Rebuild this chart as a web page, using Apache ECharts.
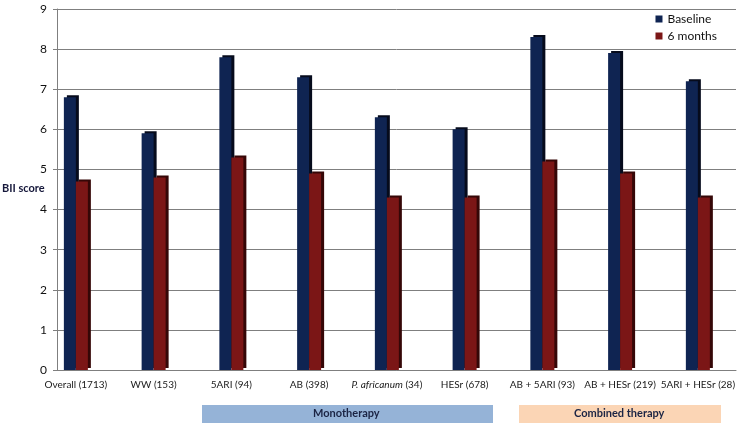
<!DOCTYPE html>
<html>
<head>
<meta charset="utf-8">
<script src="https://cdn.jsdelivr.net/npm/echarts@6/dist/echarts.min.js"></script>
<style>
  html, body { margin: 0; padding: 0; background: #fff; }
  #main { width: 738px; height: 426px; }
</style>
</head>
<body>
<div id="main"></div>
<script>
// categories (n = patients)
const categories = ['Overall (1713)', 'WW (153)', '5ARI (94)', 'AB (398)', 'P. africanum (34)',
  'HESr (678)', 'AB + 5ARI (93)', 'AB + HESr (219)', '5ARI + HESr (28)']
// BII score
const baseline = [6.8, 5.9, 7.8, 7.3, 6.3, 6.0, 8.3, 7.9, 7.2]
const sixMonths = [4.7, 4.8, 5.3, 4.9, 4.3, 4.3, 5.2, 4.9, 4.3]
const yTicks = [0, 9, 1] // min, max, interval

const FONT = 'Lato'
const chart = echarts.init(document.getElementById('main'))

chart.setOption({
  animation: false,
  textStyle: { fontFamily: FONT },
  legend: {
    orient: 'vertical',
    right: 16,
    top: 8,
    itemWidth: 7,
    itemHeight: 7,
    itemGap: 5,
    icon: 'rect',
    textStyle: { fontSize: 12, color: '#111', fontFamily: FONT },
    data: ['Baseline', '6 months']
  },
  grid: [
    // back wall: y axis + gridlines
    { left: 57, right: 2, top: 9, bottom: 56 },
    // bars + category labels
    { left: 37, right: 0, top: 9, bottom: 56 }
  ],
  xAxis: [
    {
      gridIndex: 0,
      type: 'category',
      data: categories,
      axisLine: { lineStyle: { color: '#7f7f7f' } },
      axisTick: { show: false },
      axisLabel: { show: false }
    },
    {
      gridIndex: 1,
      type: 'category',
      data: categories,
      axisLine: { show: false },
      axisTick: { show: false },
      axisLabel: {
        interval: 0,
        margin: 10,
        fontSize: 10,
        color: '#1a1a1a',
        fontFamily: FONT,
        formatter: (v) => v.startsWith('P. africanum') ? '{i|P. africanum}' + v.slice(12) : v,
        rich: { i: { fontStyle: 'italic', fontSize: 10, color: '#1a1a1a', fontFamily: FONT } }
      }
    }
  ],
  yAxis: [
    {
      gridIndex: 0,
      type: 'value',
      min: yTicks[0],
      max: yTicks[1],
      interval: yTicks[2],
      axisLine: { show: true, lineStyle: { color: '#7f7f7f' } },
      axisTick: { show: true, length: 4, lineStyle: { color: '#7f7f7f' } },
      axisLabel: { fontSize: 12, color: '#111', margin: 10, fontFamily: FONT, showMinLabel: true, showMaxLabel: true, hideOverlap: false },
      splitLine: { lineStyle: { color: '#7f7f7f', width: 1 } }
    },
    {
      gridIndex: 1,
      type: 'value',
      min: yTicks[0],
      max: yTicks[1],
      interval: yTicks[2],
      show: false
    }
  ],
  series: [
    {
      name: 'Baseline',
      type: 'bar',
      xAxisIndex: 1,
      yAxisIndex: 1,
      barWidth: 12,
      barGap: '0%',
      data: baseline,
      itemStyle: {
        color: '#0f2452',
        shadowColor: '#060b1c',
        shadowOffsetX: 3,
        shadowOffsetY: -2,
        shadowBlur: 0
      }
    },
    {
      name: '6 months',
      type: 'bar',
      xAxisIndex: 1,
      yAxisIndex: 1,
      barWidth: 12,
      barGap: '0%',
      data: sixMonths,
      itemStyle: {
        color: '#7b1616',
        shadowColor: '#350707',
        shadowOffsetX: 3,
        shadowOffsetY: -2,
        shadowBlur: 0
      }
    }
  ],
  graphic: [
    {
      type: 'text',
      left: 2, top: 183,
      style: { text: 'BII score', font: 'bold 11px Lato', fill: '#15173a' }
    },
    {
      type: 'rect',
      left: 202, top: 405,
      shape: { width: 291, height: 18 },
      style: { fill: '#95b3d7' }
    },
    {
      type: 'text',
      left: 313, top: 408,
      style: { text: 'Monotherapy', font: 'bold 11px Lato', fill: '#1b2444' }
    },
    {
      type: 'rect',
      left: 519, top: 405,
      shape: { width: 202, height: 18 },
      style: { fill: '#fbd5b5' }
    },
    {
      type: 'text',
      left: 574, top: 408,
      style: { text: 'Combined therapy', font: 'bold 11px Lato', fill: '#1b2444' }
    }
  ]
})
</script>
</body>
</html>
